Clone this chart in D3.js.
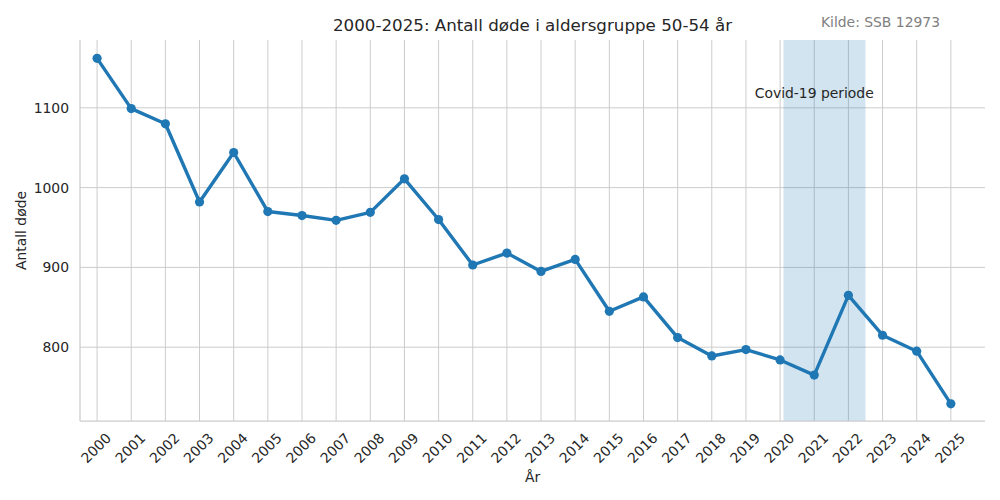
<!DOCTYPE html>
<html>
<head>
<meta charset="utf-8">
<script src="https://cdn.jsdelivr.net/npm/d3@7"></script>
<style>
  html, body { margin: 0; padding: 0; background: #fff; }
  svg { display: block; font-family: "DejaVu Sans", sans-serif; }
</style>
</head>
<body>
<svg id="chart" width="1000" height="500"></svg>
<script>
const years = [2000,2001,2002,2003,2004,2005,2006,2007,2008,2009,2010,2011,2012,2013,2014,2015,2016,2017,2018,2019,2020,2021,2022,2023,2024,2025];
const deaths = [1162,1099,1080,982,1044,970,965,959,969,1011,960,903,918,895,910,845,863,812,789,797,784,765,865,815,795,729];
const yTicks = [800, 900, 1000, 1100];
const covidSpan = [2020.1, 2022.5];
const covidLabel = "Covid-19 periode";
const titleText = "2000-2025: Antall døde i aldersgruppe 50-54 år";
const sourceText = "Kilde: SSB 12973";
const xLabel = "År";
const yLabel = "Antall døde";

const L = 80, R = 985, T = 40, B = 421;
const svg = d3.select("#chart");
const x = d3.scaleLinear().domain([1999.5, 2026]).range([L, R]);
const y = d3.scaleLinear().domain([707.5, 1185]).range([B, T]);
const textColor = "#262626";
const gridColor = "#cccccc";

// grid
svg.append("g").selectAll("line").data(years).join("line")
  .attr("x1", d => x(d)).attr("x2", d => x(d))
  .attr("y1", T).attr("y2", B)
  .attr("stroke", gridColor).attr("stroke-width", 1);
svg.append("g").selectAll("line").data(yTicks).join("line")
  .attr("x1", L).attr("x2", R)
  .attr("y1", d => y(d)).attr("y2", d => y(d))
  .attr("stroke", gridColor).attr("stroke-width", 1);

// covid shading
svg.append("rect")
  .attr("x", x(covidSpan[0])).attr("width", x(covidSpan[1]) - x(covidSpan[0]))
  .attr("y", T).attr("height", B - T)
  .attr("fill", "#1f77b4").attr("fill-opacity", 0.2);

// spines
svg.append("line").attr("x1", L).attr("x2", L).attr("y1", T).attr("y2", B)
  .attr("stroke", gridColor).attr("stroke-width", 1.25);
svg.append("line").attr("x1", L).attr("x2", R).attr("y1", B).attr("y2", B)
  .attr("stroke", gridColor).attr("stroke-width", 1.25);

// axes labels (ticks)
svg.append("g").selectAll("text").data(yTicks).join("text")
  .attr("x", L - 11).attr("y", d => y(d))
  .attr("text-anchor", "end").attr("dominant-baseline", "central")
  .attr("font-size", "13.9px").attr("fill", textColor)
  .text(d => d);
svg.append("g").selectAll("text").data(years).join("text")
  .attr("transform", d => `translate(${x(d) - 1},${448}) rotate(-45)`)
  .attr("text-anchor", "middle").attr("dominant-baseline", "central")
  .attr("font-size", "13.9px").attr("fill", textColor)
  .text(d => d);

// line + markers
const line = d3.line().x((d, i) => x(years[i])).y(d => y(d));
svg.append("path").datum(deaths)
  .attr("d", line).attr("fill", "none")
  .attr("stroke", "#1f77b4").attr("stroke-width", 3.4)
  .attr("stroke-linejoin", "round").attr("stroke-linecap", "round");
svg.append("g").selectAll("circle").data(deaths).join("circle")
  .attr("cx", (d, i) => x(years[i])).attr("cy", d => y(d))
  .attr("r", 4.6).attr("fill", "#1f77b4");

// annotation
svg.append("text")
  .attr("x", x(2021)).attr("y", y(1112))
  .attr("text-anchor", "middle")
  .attr("font-size", "13.9px").attr("fill", textColor)
  .text(covidLabel);

// title & source
svg.append("text")
  .attr("x", (L + R) / 2).attr("y", 31)
  .attr("text-anchor", "middle")
  .attr("font-size", "16.7px").attr("fill", textColor)
  .text(titleText);
svg.append("text")
  .attr("x", 940).attr("y", 27)
  .attr("text-anchor", "end")
  .attr("font-size", "13.9px").attr("fill", "#808080")
  .text(sourceText);

// axis titles
svg.append("text")
  .attr("x", (L + R) / 2).attr("y", 482)
  .attr("text-anchor", "middle")
  .attr("font-size", "13.9px").attr("fill", textColor)
  .text(xLabel);
svg.append("text")
  .attr("transform", `translate(26,${(T + B) / 2}) rotate(-90)`)
  .attr("text-anchor", "middle")
  .attr("font-size", "13.9px").attr("fill", textColor)
  .text(yLabel);
</script>
</body>
</html>
